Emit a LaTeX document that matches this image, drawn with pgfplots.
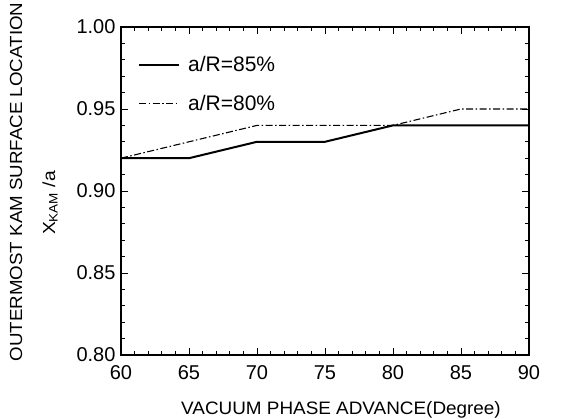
\documentclass[border=0pt]{standalone}
\usepackage{pgfplots}
\pgfplotsset{compat=1.18}
\usepackage{fontspec}
\setmainfont{Liberation Sans}
\begin{document}
\begin{tikzpicture}
\begin{axis}[
  scale only axis,
  width=408pt, height=328pt,
  xmin=60, xmax=90, ymin=0.80, ymax=1.00,
  xtick={60,65,...,90},
  ytick={0.80,0.85,0.90,0.95,1.00},
  minor x tick num=4, minor y tick num=4,
  tick align=inside,
  major tick length=7pt, minor tick length=4pt,
  axis line style={line width=2pt},
  every tick/.style={black, line width=0.9pt},
  /pgf/number format/assume math mode=true,
  yticklabel style={/pgf/number format/fixed, /pgf/number format/fixed zerofill, /pgf/number format/precision=2, xshift=-2pt},
  xticklabel style={yshift=-7pt},
  ticklabel style={font=\fontsize{20}{24}\selectfont},
  xlabel={\scalebox{1.05}[1]{VACUUM PHASE ADVANCE(Degree)}},
  xlabel style={font=\fontsize{18}{21}\selectfont, at={(rel axis cs:0.5,0)}, anchor=center, yshift=-55pt, xshift=16pt},
  legend style={draw=none, fill=none, at={(rel axis cs:0,1)}, anchor=north west, xshift=17pt, yshift=-27pt, font=\fontsize{21}{25}\selectfont, row sep=18pt, inner sep=0pt},
  legend cell align=left,
  legend image code/.code={\draw[#1] (0pt,0pt) -- (40pt,0pt); \path (46pt,0pt);},
]
\addplot[black, line width=2pt] coordinates {(60,0.92) (65,0.92) (70,0.93) (75,0.93) (80,0.94) (85,0.94) (90,0.94)};
\addlegendentry{a/R=85\%}
\addplot[black, line width=1.1pt, dash pattern=on 7pt off 2.5pt on 1.5pt off 2.5pt] coordinates {(60,0.92) (65,0.93) (70,0.94) (75,0.94) (80,0.94) (85,0.95) (90,0.95)};
\addlegendentry{a/R=80\%}
\coordinate (bl) at (rel axis cs:0,0);
\end{axis}
\node[rotate=90, font=\fontsize{17.5}{21}\selectfont, anchor=center] at ([shift={(-105pt,173pt)}]bl) {\scalebox{1.07}[1]{OUTERMOST KAM SURFACE LOCATION}};
\node[rotate=90, font=\fontsize{17.5}{21}\selectfont, anchor=center] at ([shift={(-71pt,152pt)}]bl) {\scalebox{1.1}[1]{X\textsubscript{KAM} /a}};
\pgfresetboundingbox
\path[use as bounding box] ([shift={(-121pt,-64pt)}]bl) rectangle ([shift={(446pt,355pt)}]bl);
\end{tikzpicture}
\end{document}
